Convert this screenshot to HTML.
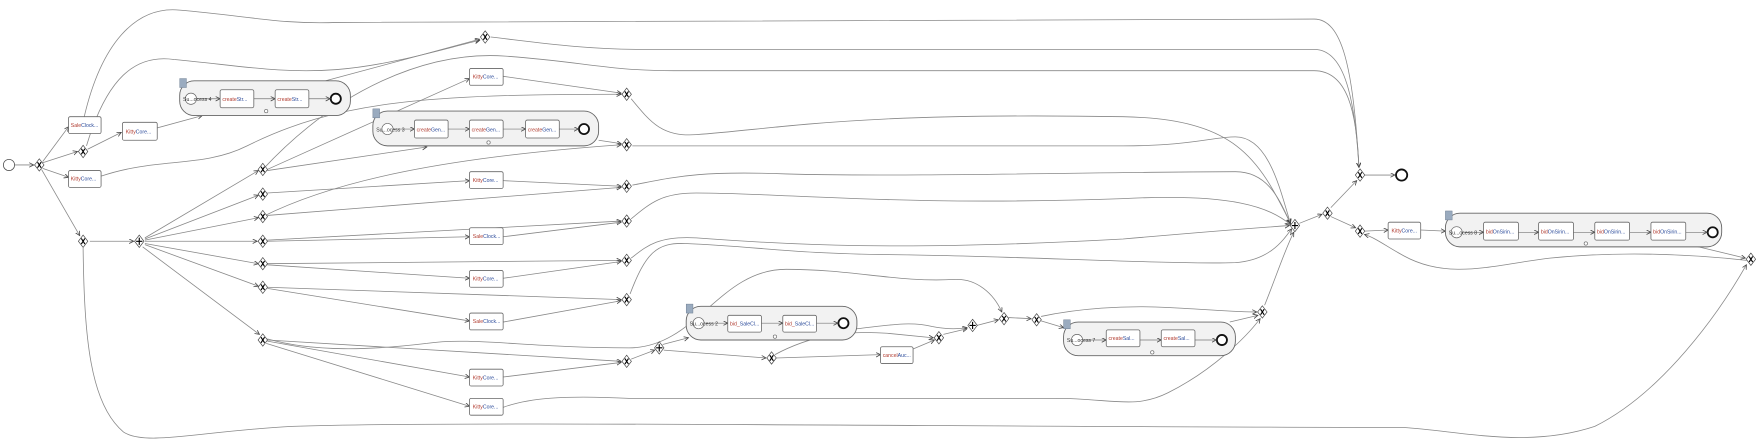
<!DOCTYPE html>
<html><head><meta charset="utf-8"><style>
html,body{margin:0;padding:0;background:#fff;}
svg{display:block;}
text{font-family:"Liberation Sans",sans-serif;font-size:4.6px;}
</style></head><body>
<svg width="1761" height="441" viewBox="0 0 1568 393" preserveAspectRatio="none" xmlns="http://www.w3.org/2000/svg">
<defs>
<marker id="a" markerUnits="userSpaceOnUse" markerWidth="6" markerHeight="5" refX="4" refY="2" orient="auto">
<path d="M0,0 L4,2 L0,4" fill="none" stroke="#444" stroke-width="0.7"/>
</marker>
<symbol id="x" viewBox="-6 -7 12 14" width="12" height="14" overflow="visible">
<path d="M0,-5.5 L4.2,0 L0,5.5 L-4.2,0 Z" fill="#fff" stroke="#444" stroke-width="0.6"/>
<path d="M-1.6,-2.5 L1.6,2.5 M1.6,-2.5 L-1.6,2.5" stroke="#000" stroke-width="1"/>
</symbol>
<symbol id="p" viewBox="-6 -7 12 14" width="12" height="14" overflow="visible">
<path d="M0,-5.5 L4.2,0 L0,5.5 L-4.2,0 Z" fill="#fff" stroke="#444" stroke-width="0.6"/>
<path d="M0,-3.2 L0,3.2 M-2.8,0 L2.8,0" stroke="#000" stroke-width="1"/>
</symbol>
</defs>
<g fill="none" stroke="#888" stroke-width="0.7" marker-end="url(#a)">
<path d="M13,147 L30,147"/>
<path d="M38,144 L61,113"/>
<path d="M38,145 L69,135"/>
<path d="M38,150 L61,158"/>
<path d="M37,151 L71,210"/>
<path d="M75,104 C90,40 120,5 160,9 C220,14 250,22 300,20 C400,17 700,17 1170,17 C1195,17 1205,60 1210,149"/>
<path d="M77,130 C95,70 120,48 155,53 C210,58 250,66 300,62 C350,58 400,42 427,36"/>
<path d="M290,72 L427,35"/>
<path d="M437,33 C480,38 520,44 570,44 L1170,44 C1195,44 1206,80 1210,149"/>
<path d="M234,151 C300,80 380,45 450,50 C520,55 540,63 600,63 L1170,63 C1200,63 1208,100 1210,149"/>
<path d="M78,133 L108,118"/>
<path d="M140,114 L180,103"/>
<path d="M90,157 C140,140 180,150 220,130 C300,90 380,84 553,84"/>
<path d="M448,68 L553,83"/>
<path d="M562,88 C580,110 590,122 620,120 C700,114 760,100 1000,104 C1100,106 1120,140 1149,199"/>
<path d="M533,125 L553,128"/>
<path d="M234,193 C300,160 400,140 553,129"/>
<path d="M563,130 L1000,130 C1060,130 1080,122 1100,122 C1130,122 1140,170 1149,199"/>
<path d="M238,151 L418,70"/>
<path d="M238,152 L380,131"/>
<path d="M238,172 L418,161"/>
<path d="M238,192 L553,167"/>
<path d="M448,161 L553,166"/>
<path d="M563,165 C600,158 620,152 700,155 C800,158 1000,153 1100,153 C1130,153 1140,180 1149,199"/>
<path d="M238,215 L418,211"/>
<path d="M238,214 L553,197"/>
<path d="M448,211 L553,198"/>
<path d="M562,195 C580,180 590,172 620,172 C700,172 800,184 1000,177 C1100,172 1130,185 1149,200"/>
<path d="M238,236 L418,248"/>
<path d="M238,235 L553,232"/>
<path d="M448,248 L553,233"/>
<path d="M562,230 C575,220 585,210 620,212 C700,218 800,224 1000,213 C1080,206 1120,203 1148,201"/>
<path d="M238,257 L418,286"/>
<path d="M238,256 L553,267"/>
<path d="M448,287 L553,268"/>
<path d="M561,262 C575,225 585,216 610,217 C680,220 700,226 800,227 C900,228 1050,236 1100,234 C1130,232 1142,215 1150,204"/>
<path d="M129,212 L230,152"/>
<path d="M129,213 L230,174"/>
<path d="M129,214 L230,194"/>
<path d="M129,215 L229,215"/>
<path d="M129,217 L230,235"/>
<path d="M129,218 L230,255"/>
<path d="M127,220 L231,298"/>
<path d="M80,215 L119,215"/>
<path d="M238,302 C280,314 330,312 380,306 C420,300 470,310 560,310 C620,310 640,240 700,240 C760,240 800,252 850,249 C870,248 885,262 892,278"/>
<path d="M238,303 L553,322"/>
<path d="M238,304 L418,336"/>
<path d="M237,306 L418,362"/>
<path d="M448,336 L553,323"/>
<path d="M562,320 L583,312"/>
<path d="M590,307 L613,301"/>
<path d="M591,312 L682,319"/>
<path d="M691,319 L784,316"/>
<path d="M690,316 C720,300 750,294 790,297 C810,299 820,300 831,301"/>
<path d="M813,311 L832,303"/>
<path d="M763,293 C790,290 810,286 830,291 C845,294 855,293 861,292"/>
<path d="M840,298 L861,293"/>
<path d="M870,290 L889,285"/>
<path d="M898,283 L918,284"/>
<path d="M927,286 L947,292"/>
<path d="M927,282 C960,275 1000,272 1040,274 C1080,276 1100,278 1119,278"/>
<path d="M1095,287 L1120,281"/>
<path d="M448,363 C470,355 500,352 560,355 L940,355 C990,355 1010,365 1040,350 C1080,330 1110,300 1122,284"/>
<path d="M1126,272 C1135,250 1145,220 1152,207"/>
<path d="M1157,199 L1177,191"/>
<path d="M1185,185 L1208,161"/>
<path d="M1185,193 L1207,203"/>
<path d="M1215,156 L1242,156"/>
<path d="M1215,206 L1236,205"/>
<path d="M1265,205 L1287,206"/>
<path d="M1500,217 L1554,230"/>
<path d="M1555,232 C1500,226 1440,224 1380,230 C1330,236 1290,250 1250,228 C1235,220 1225,212 1215,209"/>
<path d="M74,221 C75,300 80,360 110,385 C130,398 180,384 260,380 C400,375 800,380 1250,381 C1300,384 1360,400 1420,380 C1480,350 1530,280 1555,236"/>
</g>
<circle cx="8" cy="147" r="5" fill="#fff" stroke="#555" stroke-width="0.7"/>
<circle cx="1248" cy="156" r="5" fill="#fff" stroke="#111" stroke-width="1.6"/>
<g stroke="#666" stroke-width="0.8">
<rect x="160" y="72" width="152" height="31" rx="13" fill="#f2f2f2"/>
<rect x="332" y="99" width="201" height="31" rx="13" fill="#f2f2f2"/>
<rect x="611" y="273" width="152" height="30" rx="13" fill="#f2f2f2"/>
<rect x="947" y="287" width="153" height="30" rx="13" fill="#f2f2f2"/>
<rect x="1287" y="190" width="246" height="30" rx="13" fill="#f2f2f2"/>
</g>
<g fill="#9aabbf" stroke="#6b7b8f" stroke-width="0.4">
<rect x="160" y="70" width="6" height="8"/>
<rect x="332" y="97" width="6" height="8"/>
<rect x="611" y="271" width="6" height="8"/>
<rect x="947" y="285" width="6" height="8"/>
<rect x="1287" y="188" width="6" height="8"/>
</g>
<g fill="#fff" stroke="#666" stroke-width="0.6">
<circle cx="170" cy="88" r="5"/><circle cx="345" cy="115" r="5"/><circle cx="622" cy="288" r="5"/><circle cx="959" cy="303" r="5"/><circle cx="1297" cy="207" r="5"/>
<circle cx="237" cy="99" r="1.5"/><circle cx="435" cy="127" r="1.5"/><circle cx="690" cy="300" r="1.5"/><circle cx="1026" cy="314" r="1.5"/><circle cx="1412" cy="217" r="1.5"/>
</g>
<g fill="#fff" stroke="#111" stroke-width="1.6">
<circle cx="299" cy="88" r="4.5"/><circle cx="520" cy="115" r="4.5"/><circle cx="751" cy="288" r="4.5"/><circle cx="1088" cy="303" r="4.5"/><circle cx="1525" cy="207" r="4.5"/>
</g>
<g fill="none" stroke="#777" stroke-width="0.6" marker-end="url(#a)">
<path d="M175,88 L196,88"/><path d="M226,88 L245,88"/><path d="M275,88 L294,88"/>
<path d="M350,115 L369,115"/><path d="M399,115 L418,115"/><path d="M448,115 L468,115"/><path d="M498,115 L515,115"/>
<path d="M627,288 L648,288"/><path d="M678,288 L697,288"/><path d="M727,288 L746,288"/>
<path d="M964,303 L985,303"/><path d="M1015,303 L1034,303"/><path d="M1064,303 L1083,303"/>
<path d="M1302,207 L1321,207"/><path d="M1352,207 L1370,207"/><path d="M1401,207 L1420,207"/><path d="M1451,207 L1470,207"/><path d="M1501,207 L1520,207"/>
</g>
<g fill="#333"><text x="163" y="90">Su...ocess 4</text><text x="335" y="117">Su...ocess 3</text><text x="614" y="290">Su...ocess 2</text><text x="950" y="305">Su...ocess 7</text><text x="1290" y="209">Su...ocess 8</text></g>
<g fill="#fff" stroke="#666" stroke-width="0.7">
<rect x="61" y="104" width="29" height="15" rx="1.5"/>
<rect x="109" y="109" width="31" height="16" rx="1.5"/>
<rect x="61" y="152" width="29" height="15" rx="1.5"/>
<rect x="418" y="61" width="30" height="15" rx="1.5"/>
<rect x="418" y="153" width="30" height="15" rx="1.5"/>
<rect x="418" y="203" width="30" height="15" rx="1.5"/>
<rect x="418" y="241" width="30" height="15" rx="1.5"/>
<rect x="418" y="279" width="30" height="15" rx="1.5"/>
<rect x="418" y="329" width="30" height="15" rx="1.5"/>
<rect x="418" y="355" width="30" height="15" rx="1.5"/>
<rect x="784" y="309" width="29" height="15" rx="1.5"/>
<rect x="1236" y="198" width="29" height="15" rx="1.5"/>
<rect x="196" y="80" width="30" height="16" rx="1.5"/><rect x="245" y="80" width="30" height="16" rx="1.5"/>
<rect x="369" y="107" width="30" height="16" rx="1.5"/><rect x="418" y="107" width="30" height="16" rx="1.5"/><rect x="468" y="107" width="30" height="16" rx="1.5"/>
<rect x="648" y="281" width="30" height="15" rx="1.5"/><rect x="697" y="281" width="30" height="15" rx="1.5"/>
<rect x="985" y="294" width="30" height="15" rx="1.5"/><rect x="1034" y="294" width="30" height="15" rx="1.5"/>
<rect x="1321" y="198" width="31" height="16" rx="1.5"/><rect x="1370" y="198" width="31" height="16" rx="1.5"/><rect x="1420" y="198" width="31" height="16" rx="1.5"/><rect x="1470" y="198" width="31" height="16" rx="1.5"/>
</g>
<g fill="#b03a2e">
<text x="63" y="113"><tspan>Sale</tspan><tspan fill="#2a4a9a">Clock...</tspan></text>
<text x="112" y="119"><tspan>Kitty</tspan><tspan fill="#2a4a9a">Core...</tspan></text>
<text x="63" y="161"><tspan>Kitty</tspan><tspan fill="#2a4a9a">Core...</tspan></text>
<text x="421" y="70"><tspan>Kitty</tspan><tspan fill="#2a4a9a">Core...</tspan></text>
<text x="421" y="162"><tspan>Kitty</tspan><tspan fill="#2a4a9a">Core...</tspan></text>
<text x="421" y="212"><tspan>Sale</tspan><tspan fill="#2a4a9a">Clock...</tspan></text>
<text x="421" y="250"><tspan>Kitty</tspan><tspan fill="#2a4a9a">Core...</tspan></text>
<text x="421" y="288"><tspan>Sale</tspan><tspan fill="#2a4a9a">Clock...</tspan></text>
<text x="421" y="338"><tspan>Kitty</tspan><tspan fill="#2a4a9a">Core...</tspan></text>
<text x="421" y="364"><tspan>Kitty</tspan><tspan fill="#2a4a9a">Core...</tspan></text>
<text x="786" y="318"><tspan>cancel</tspan><tspan fill="#2a4a9a">Auc...</tspan></text>
<text x="1239" y="207"><tspan>Kitty</tspan><tspan fill="#2a4a9a">Core...</tspan></text>
<text x="198" y="90"><tspan>create</tspan><tspan fill="#2a4a9a">Str...</tspan></text>
<text x="247" y="90"><tspan>create</tspan><tspan fill="#2a4a9a">Str...</tspan></text>
<text x="371" y="117"><tspan>create</tspan><tspan fill="#2a4a9a">Gen...</tspan></text>
<text x="420" y="117"><tspan>create</tspan><tspan fill="#2a4a9a">Gen...</tspan></text>
<text x="470" y="117"><tspan>create</tspan><tspan fill="#2a4a9a">Gen...</tspan></text>
<text x="650" y="290"><tspan>bid_</tspan><tspan fill="#2a4a9a">SaleCl...</tspan></text>
<text x="699" y="290"><tspan>bid_</tspan><tspan fill="#2a4a9a">SaleCl...</tspan></text>
<text x="987" y="303"><tspan>create</tspan><tspan fill="#2a4a9a">Sal...</tspan></text>
<text x="1036" y="303"><tspan>create</tspan><tspan fill="#2a4a9a">Sal...</tspan></text>
<text x="1323" y="208"><tspan>bid</tspan><tspan fill="#2a4a9a">OnSirin...</tspan></text>
<text x="1372" y="208"><tspan>bid</tspan><tspan fill="#2a4a9a">OnSirin...</tspan></text>
<text x="1422" y="208"><tspan>bid</tspan><tspan fill="#2a4a9a">OnSirin...</tspan></text>
<text x="1472" y="208"><tspan>bid</tspan><tspan fill="#2a4a9a">OnSirin...</tspan></text>
</g>
<use href="#x" x="29" y="140"/>
<use href="#x" x="68" y="128"/>
<use href="#x" x="68" y="208"/>
<use href="#p" x="118" y="208"/>
<use href="#x" x="426" y="26"/>
<use href="#x" x="228" y="144"/><use href="#x" x="228" y="166"/><use href="#x" x="228" y="186"/><use href="#x" x="228" y="208"/><use href="#x" x="228" y="228"/><use href="#x" x="228" y="249"/><use href="#x" x="228" y="296"/>
<use href="#x" x="552" y="77"/><use href="#x" x="552" y="122"/><use href="#x" x="552" y="159"/><use href="#x" x="552" y="190"/><use href="#x" x="552" y="225"/><use href="#x" x="552" y="260"/><use href="#x" x="552" y="315"/>
<use href="#p" x="581" y="303"/>
<use href="#x" x="681" y="312"/>
<use href="#x" x="830" y="294"/>
<use href="#p" x="860" y="283"/>
<use href="#x" x="888" y="277"/>
<use href="#x" x="917" y="278"/>
<use href="#x" x="1118" y="271"/>
<use href="#p" x="1147" y="194"/>
<use href="#x" x="1176" y="183"/>
<use href="#x" x="1205" y="149"/>
<use href="#x" x="1205" y="199"/>
<use href="#x" x="1553" y="224"/>
</svg>
</body></html>
